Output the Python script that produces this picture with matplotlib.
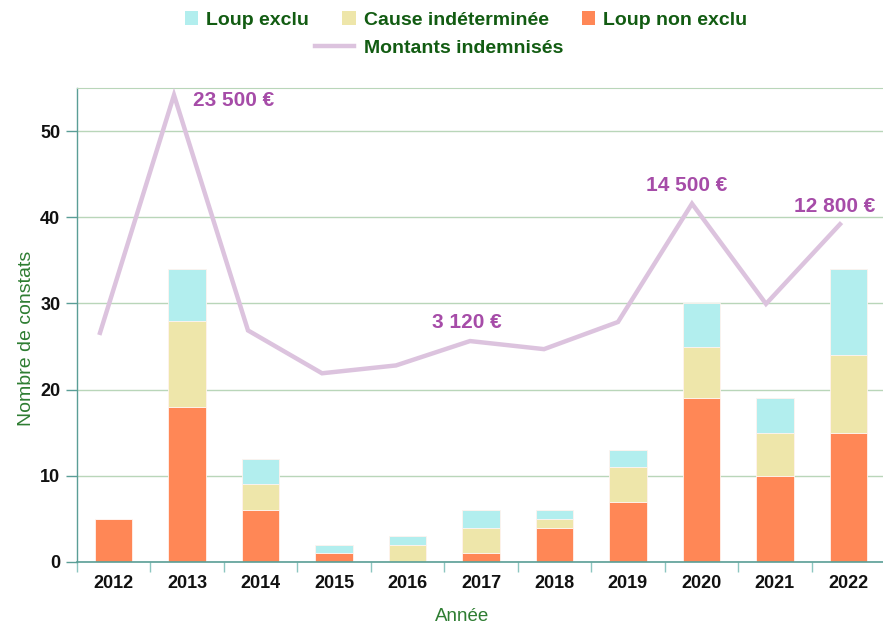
import matplotlib
matplotlib.use("Agg")
import matplotlib.pyplot as plt
from matplotlib.patches import Patch
from matplotlib.lines import Line2D
import numpy as np

plt.rcParams['font.family'] = ['Liberation Sans', 'DejaVu Sans']

years = ["2012", "2013", "2014", "2015", "2016", "2017", "2018", "2019", "2020", "2021", "2022"]
loup_non_exclu = [5, 18, 6, 1, 0, 1, 4, 7, 19, 10, 15]
cause_indet = [0, 10, 3, 0, 2, 3, 1, 4, 6, 5, 9]
loup_exclu = [0, 6, 3, 1, 1, 2, 1, 2, 5, 4, 10]
montants = [3800, 23500, 4000, 450, 1100, 3120, 2450, 4700, 14500, 6200, 12800]
labelled = {1: "23 500 €", 5: "3 120 €", 8: "14 500 €", 10: "12 800 €"}
label_offsets = {1: (43, -4), 5: (-2, 13), 8: (-4, 13), 10: (-4, 13)}

c_orange = "#FF8756"
c_yellow = "#EEE6AA"
c_cyan = "#B2EEEE"
c_line = "#DCC3DE"
c_lab = "#A64CA8"
c_green = "#125C12"
c_spine = "#5A9E96"
c_grid = "#B9D6B9"

fig = plt.figure(figsize=(8.83, 6.24), dpi=100)
ax = fig.add_axes([77/883, 1-562/624, 808/883, (562-88)/624])

x = np.arange(len(years))
a = np.array(loup_non_exclu)
b = np.array(cause_indet)
c = np.array(loup_exclu)
w = 0.51
ec = dict(edgecolor="#FFF3EE", linewidth=0.6)
ax.bar(x, a, w, color=c_orange, zorder=2, **ec)
ax.bar(x, b, w, bottom=a, color=c_yellow, zorder=2, **ec)
ax.bar(x, c, w, bottom=a+b, color=c_cyan, zorder=2, **ec)

ax.set_xlim(-0.5, len(years)-0.5)
ax.set_ylim(0, 55)
ax.set_yticks([0, 10, 20, 30, 40, 50])
ax.yaxis.grid(True, color=c_grid, linewidth=1, zorder=0)
ax.set_axisbelow(True)
ax.set_xticks(x)
ax.set_xticklabels(years)
ax.set_xticks(np.arange(-0.5, len(years)), minor=True)
ax.tick_params(axis='x', which='major', length=0, pad=9)
ax.tick_params(axis='x', which='minor', length=7, color="#8CC6C0", width=1)
ax.tick_params(axis='y', length=8, color=c_spine, width=1, pad=4)
for lab in ax.get_xticklabels() + ax.get_yticklabels():
    lab.set_fontweight('bold')
    lab.set_fontsize(13)
    lab.set_color("#111111")

ax.spines['right'].set_visible(False)
ax.spines['top'].set_color(c_grid)
ax.spines['left'].set_color(c_spine)
ax.spines['bottom'].set_color(c_spine)
ax.spines['left'].set_linewidth(1)
ax.spines['bottom'].set_linewidth(1.2)

ax.set_xlabel("Année", fontsize=13.5, color="#2E7D32")
ax.xaxis.set_label_coords((462-77)/808, -0.097)
ax.set_ylabel("Nombre de constats", fontsize=14, color="#2E7D32")
ax.yaxis.set_label_coords(-0.052, (562-338)/474)

# Line on overlay axes
ax2 = fig.add_axes(ax.get_position(), facecolor='none')
ax2.set_axis_off()
ax2.set_xlim(-23/74, 785/74)
ax2.set_ylim(-15185, 24085)
ax2.plot(x, montants, color=c_line, linewidth=3.2, solid_joinstyle='miter', zorder=3)
for i, t in labelled.items():
    ax2.annotate(t, (x[i], montants[i]), xytext=label_offsets[i], textcoords='offset points',
                 ha='center', va='center', fontsize=15, fontweight='bold', color=c_lab)

h1 = [Patch(facecolor=c_cyan, edgecolor='none', label="Loup exclu"),
      Patch(facecolor=c_yellow, edgecolor='none', label="Cause indéterminée"),
      Patch(facecolor=c_orange, edgecolor='none', label="Loup non exclu")]
leg1 = fig.legend(handles=h1, loc='center', bbox_to_anchor=(466/883, 1-20/624), ncol=3,
                  frameon=False, handlelength=0.7, handleheight=0.7, handletextpad=0.4,
                  columnspacing=1.7, prop={'weight': 'bold', 'size': 14})
for t in leg1.get_texts():
    t.set_color(c_green)
h2 = [Line2D([0], [0], color=c_line, linewidth=3.2, label="Montants indemnisés")]
leg2 = fig.legend(handles=h2, loc='center', bbox_to_anchor=(439/883, 1-48/624),
                  frameon=False, handlelength=2.0, handletextpad=0.5,
                  prop={'weight': 'bold', 'size': 14})
for t in leg2.get_texts():
    t.set_color(c_green)

fig.savefig("out.png", dpi=100)
